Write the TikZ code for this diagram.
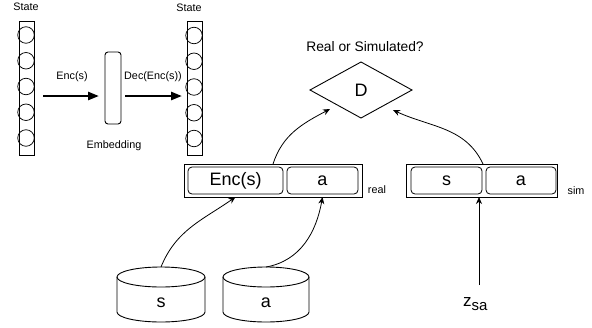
\documentclass[tikz,border=0pt]{standalone}
\usepackage{fontspec}
\setmainfont{Liberation Sans}
\usetikzlibrary{shapes.geometric,arrows.meta,calc}
\begin{document}
\begin{tikzpicture}[x=1pt,y=1pt,
  every node/.style={inner sep=0pt, outer sep=0pt},
  small/.style={font=\fontsize{10.8}{13}\selectfont},
  mid/.style={font=\fontsize{13.8}{16}\selectfont},
  big/.style={font=\fontsize{18}{21}\selectfont},
  colbox/.style={draw, line width=1pt, minimum width=15, minimum height=134},
  unitc/.style={draw, line width=0.75pt, circle, minimum size=16.5},
  outerbox/.style={draw, line width=1pt, minimum height=33},
  cell/.style={draw, line width=0.8pt, rounded corners=4pt, minimum height=27, big},
  bigarrow/.style={line width=2.5pt, -{Triangle[length=11pt,width=8pt]}},
  arr/.style={line width=0.8pt, -{Stealth[length=7pt,width=6pt]}},
  cyl/.style={line width=0.9pt}
]
\useasboundingbox (0,0) rectangle (592,-327);

% left state column
\node[colbox] (lcol) at (26.5,-88) {};
\foreach \i in {0,...,4} \node[unitc] (lc\i) at (26,{-35-25.75*\i}) {};
\node[small] (lstate) at (26,-7) {State};

% right state column
\node[colbox] (rcol) at (194.5,-88.5) {};
\foreach \i in {0,...,4} \node[unitc] (rc\i) at (194,{-35.5-25.75*\i}) {};
\node[small] (rstate) at (189,-8) {State};

% embedding
\node[draw, line width=0.9pt, rounded corners=3pt, minimum width=16, minimum height=72] (emb) at (113,-88) {};
\node[small] (embl) at (114,-146) {Embedding};

\draw[bigarrow] ($(lcol.east)+(9,-8)$) -- ($(emb.west)+(-6,-8)$);
\draw[bigarrow] ($(emb.east)+(4,-8)$) -- ($(rcol.west)+(-5,-7.5)$);
\node[small] (encl) at (72,-77) {Enc(s)};
\node[small] (decl) at (153,-77) {Dec(Enc(s))};

% discriminator
\node[diamond, draw, line width=0.9pt, minimum width=102, minimum height=56, big] (D) at (361,-90) {D};
\node[mid] (q) at (365,-47) {Real or Simulated?};

% real pair
\node[outerbox, minimum width=178] (realbox) at (273,-180.5) {};
\node[cell, minimum width=95] (enc) at (235.5,-180.5) {Enc(s)};
\node[cell, minimum width=71] (ra) at (322.5,-180.5) {a};
\node[small] (reall) at (377,-190) {real};

% sim pair
\node[outerbox, minimum width=151] (simbox) at (481.5,-180.5) {};
\node[cell, minimum width=71] (ss) at (446.5,-180.5) {s};
\node[cell, minimum width=70] (sa) at (521,-180.5) {a};
\node[small] (siml) at (576,-191) {sim};

% cylinders
\node[minimum width=88, minimum height=55] (scyl) at (161,-294.5) {};
\draw[cyl] ($(scyl.north)+(0,-10)$) ellipse [x radius=44, y radius=10];
\draw[cyl] ($(scyl.north west)+(0,-10)$) -- ($(scyl.south west)+(0,10)$)
  arc[start angle=180, end angle=360, x radius=44, y radius=10] -- ($(scyl.north east)+(0,-10)$);
\node[big] (sl) at (161,-303) {s};

\node[minimum width=86, minimum height=55] (acyl) at (266,-294.5) {};
\draw[cyl] ($(acyl.north)+(0,-10)$) ellipse [x radius=43, y radius=10];
\draw[cyl] ($(acyl.north west)+(0,-10)$) -- ($(acyl.south west)+(0,10)$)
  arc[start angle=180, end angle=360, x radius=43, y radius=10] -- ($(acyl.north east)+(0,-10)$);
\node[big] (al) at (266,-303) {a};

% noise
\node[anchor=base west, font=\fontsize{17}{20}\selectfont] (zsa) at (463,-306.5) {z\raisebox{-4pt}{\fontsize{15}{18}\selectfont sa}};
\coordinate (zsatop) at (479,-285);

% connectors
\draw[arr] (scyl.north) to[out=68, in=-145] (enc.center |- realbox.south);
\draw[arr] (acyl.north) to[out=10, in=-100] (ra.center |- realbox.south);
\draw[arr] (zsatop) -- ($(simbox.south)+(-2.5,0)$);
\draw[arr] (realbox.north) to[out=72, in=-152] ($(D.center)+(-31,-19)$);
\draw[arr] ($(simbox.north)+(1.5,0)$) to[out=115, in=-25] ($(D.center)+(32,-20)$);
\end{tikzpicture}
\end{document}
